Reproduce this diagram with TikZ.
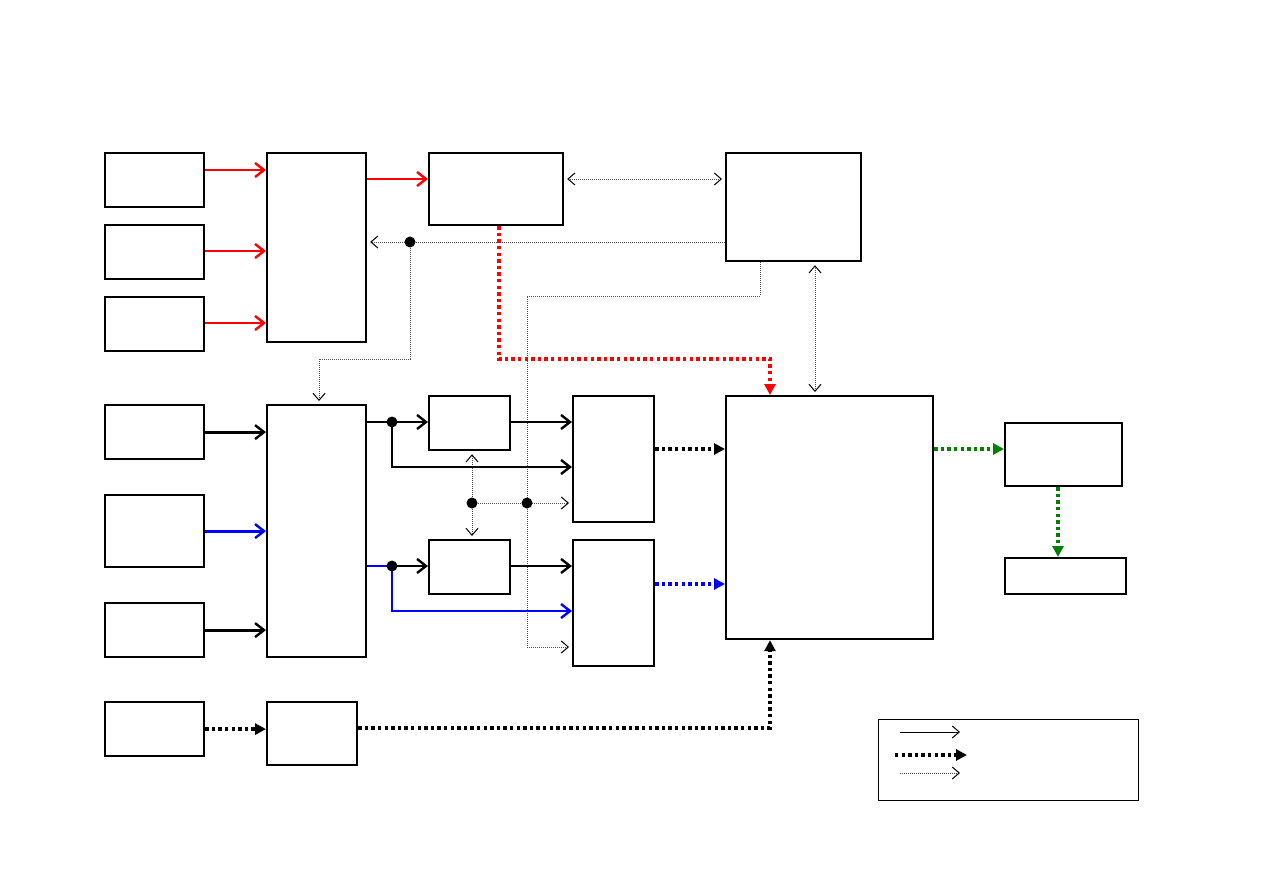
\documentclass[tikz,border=0pt]{standalone}
\usetikzlibrary{arrows.meta}
\definecolor{dgreen}{RGB}{0,128,0}
\tikzset{
  bx/.style={draw, line width=2.2pt, inner sep=0pt, anchor=north west},
  solidarr/.style={line width=2.8pt, -{Straight Barb[length=9pt,width=14pt,line width=2.4pt]}},
  thickdot/.style={line width=3.4pt, dash pattern=on 3.4pt off 3.2pt, -{Triangle[length=11pt,width=11pt]}},
  thindot/.style={line width=0.9pt, draw=black!70, dash pattern=on 1pt off 1pt},
  thinarr/.style={-{Straight Barb[length=7pt,width=12pt,line width=1pt,color=black]}},
  thinarrb/.style={{Straight Barb[length=7pt,width=12pt,line width=1pt,color=black]}-{Straight Barb[length=7pt,width=12pt,line width=1pt,color=black]}},
  jdot/.style={fill=black}
}
\begin{document}
\begin{tikzpicture}[x=1pt,y=-1pt]
\useasboundingbox (0,0) rectangle (1263,893);
% boxes
\node (L1) [bx, minimum width=99pt, minimum height=54pt] at (104,152) {};
\node (L2) [bx, minimum width=99pt, minimum height=54pt] at (104,224) {};
\node (L3) [bx, minimum width=99pt, minimum height=54pt] at (104,296) {};
\node (M1) [bx, minimum width=99pt, minimum height=189pt] at (266,152) {};
\node (T1) [bx, minimum width=134pt, minimum height=72pt] at (428,152) {};
\node (TR) [bx, minimum width=135pt, minimum height=108pt] at (725,152) {};
\node (L4) [bx, minimum width=99pt, minimum height=54pt] at (104,404) {};
\node (L5) [bx, minimum width=99pt, minimum height=72pt] at (104,494) {};
\node (L6) [bx, minimum width=99pt, minimum height=54pt] at (104,602) {};
\node (M2) [bx, minimum width=99pt, minimum height=252pt] at (266,404) {};
\node (S1) [bx, minimum width=81pt, minimum height=54pt] at (428,395) {};
\node (S2) [bx, minimum width=81pt, minimum height=54pt] at (428,539) {};
\node (R1) [bx, minimum width=81pt, minimum height=126pt] at (572,395) {};
\node (R2) [bx, minimum width=81pt, minimum height=126pt] at (572,539) {};
\node (BIG) [bx, minimum width=207pt, minimum height=243pt] at (725,395) {};
\node (G1) [bx, minimum width=117pt, minimum height=63pt] at (1004,422) {};
\node (G2) [bx, minimum width=121pt, minimum height=36pt] at (1004,557) {};
\node (L7) [bx, minimum width=99pt, minimum height=54pt] at (104,701) {};
\node (M3) [bx, minimum width=90pt, minimum height=63pt] at (266,701) {};
\node (LEG) [draw, line width=1.1pt, inner sep=0pt, anchor=north west, minimum width=260pt, minimum height=81pt] at (878,719) {};
% junctions
\coordinate (j1) at (410,242);
\coordinate (j3) at (527,503);
\coordinate (j4) at (392,422);
\coordinate (j5) at (392,566);
\coordinate (j6) at (472,503);
% red solid
\draw[solidarr, red] (L1.east |- 0,170) -- (M1.west |- 0,170);
\draw[solidarr, red] (L2.east |- 0,251) -- (M1.west |- 0,251);
\draw[solidarr, red] (L3.east |- 0,323) -- (M1.west |- 0,323);
\draw[solidarr, red] (M1.east |- 0,179) -- (T1.west |- 0,179);
% thin dotted
\draw[thindot, thinarrb, shorten <=3pt, shorten >=3pt] (T1.east |- 0,179) -- (TR.west |- 0,179);
\draw[thindot, thinarr, shorten >=3pt] (TR.west |- 0,242) -- (M1.east |- 0,242);
\draw[thindot, thinarr, shorten >=3pt] (j1) |- (319,359) -- (M2.north -| 319,0);
\draw[thindot, thinarr, shorten >=3pt] (TR.south -| 760,0) |- (527,296) -- (527,647) -- (R2.west |- 0,647);
\draw[thindot, thinarrb, shorten <=3pt, shorten >=3pt] (TR.south -| 815,0) -- (BIG.north -| 815,0);
\draw[thindot, thinarr, shorten >=3pt] (j6) -- (S1.south -| 472,0);
\draw[thindot, thinarr, shorten >=3pt] (j6) -- (S2.north -| 472,0);
\draw[thindot, thinarr, shorten >=3pt] (j6) -- (R1.west |- 0,503);
% red thick dotted
\draw[thickdot, red] (T1.south -| 499,0) |- (770,359) -- (BIG.north -| 770,0);
% black/blue solid
\draw[solidarr] (L4.east) -- (M2.west |- L4.east);
\draw[solidarr, blue] (L5.east) -- (M2.west |- L5.east);
\draw[solidarr] (L6.east) -- (M2.west |- L6.east);
\draw[line width=2.8pt] (M2.east |- j4) -- (j4);
\draw[solidarr] (j4) -- (S1.west |- j4);
\draw[solidarr] (j4) |- (R1.west |- 0,467);
\draw[solidarr] (S1.east |- 0,422) -- (R1.west |- 0,422);
\draw[line width=2.8pt, blue] (M2.east |- j5) -- (j5);
\draw[solidarr] (j5) -- (S2.west |- j5);
\draw[solidarr, blue] (j5) |- (R2.west |- 0,611);
\draw[solidarr] (S2.east |- 0,566) -- (R2.west |- 0,566);
% thick dotted
\draw[thickdot] (R1.east |- 0,449) -- (BIG.west |- 0,449);
\draw[thickdot, blue] (R2.east |- 0,584) -- (BIG.west |- 0,584);
\draw[thickdot, dgreen] (BIG.east |- 0,449) -- (G1.west |- 0,449);
\draw[thickdot, dgreen] (G1.south -| 1058,0) -- (G2.north -| 1058,0);
\draw[thickdot] (L7.east) -- (M3.west |- L7.east);
\draw[thickdot] (M3.east |- 0,728) -| (BIG.south -| 770,0);
% junction dots
\foreach \j in {j1,j3,j4,j5,j6} \fill[jdot] (\j) circle (5.5pt);
% legend
\coordinate (a1) at ([xshift=22pt,yshift=-13pt]LEG.north west);
\coordinate (a2) at ([xshift=82pt,yshift=-13pt]LEG.north west);
\coordinate (b1) at ([xshift=17pt,yshift=-36pt]LEG.north west);
\coordinate (b2) at ([xshift=89pt,yshift=-36pt]LEG.north west);
\coordinate (c1) at ([xshift=22pt,yshift=-54pt]LEG.north west);
\coordinate (c2) at ([xshift=82pt,yshift=-54pt]LEG.north west);
\draw[line width=1pt, thinarr] (a1) -- (a2);
\draw[thickdot] (b1) -- (b2);
\draw[thindot, thinarr] (c1) -- (c2);
\end{tikzpicture}
\end{document}
